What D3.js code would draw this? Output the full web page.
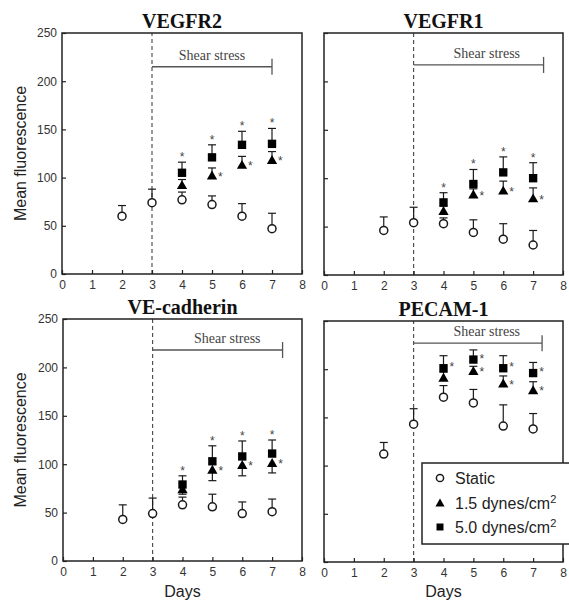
<!DOCTYPE html>
<html><head><meta charset="utf-8">
<script src="https://cdn.jsdelivr.net/npm/d3@7/dist/d3.min.js"></script>
<style>body{margin:0;background:#fff} svg{display:block}</style>
</head><body><svg id="c" width="569" height="603"></svg>
<script>
const panelTitles = ["VEGFR2", "VEGFR1", "VE-cadherin", "PECAM-1"];
const days = [2, 3, 4, 5, 6, 7];
const shearDays = [4, 5, 6, 7];
const xTicks = [0, 1, 2, 3, 4, 5, 6, 7, 8];
const yTicks = [0, 50, 100, 150, 200, 250];
const legendLabels = ["Static", "1.5 dynes/cm", "5.0 dynes/cm"];

// VEGFR2
const vegfr2Static = [60, 74, 77, 72, 60, 47];
const vegfr2StaticErr = [11, 14, 8, 9, 13, 16];
const vegfr2Low = [92, 102, 113, 118];
const vegfr2LowErr = [6, 8, 9, 9];
const vegfr2High = [105, 121, 134, 135];
const vegfr2HighErr = [11, 13, 14, 16];
const vegfr2LowSig = [0, 1, 1, 1];
const vegfr2HighSig = [1, 1, 1, 1];

// VEGFR1
const vegfr1Static = [46, 54, 53, 44, 37, 31];
const vegfr1StaticErr = [14, 16, 6, 13, 16, 15];
const vegfr1Low = [66, 83, 87, 79];
const vegfr1LowErr = [5, 6, 10, 11];
const vegfr1High = [75, 94, 106, 100];
const vegfr1HighErr = [10, 15, 16, 16];
const vegfr1LowSig = [0, 1, 1, 1];
const vegfr1HighSig = [1, 1, 1, 1];

// VE-cadherin
const vecadStatic = [43, 49, 58, 56, 49, 51];
const vecadStaticErr = [15, 16, 8, 13, 12, 13];
const vecadLow = [74, 94, 99, 101];
const vecadLowErr = [5, 11, 11, 10];
const vecadHigh = [79, 103, 108, 111];
const vecadHighErr = [9, 16, 16, 14];
const vecadLowSig = [0, 1, 1, 1];
const vecadHighSig = [1, 1, 1, 1];

// PECAM-1
const pecamStatic = [112, 143, 171, 165, 141, 138];
const pecamStaticErr = [12, 16, 12, 14, 22, 16];
const pecamLow = [191, 198, 185, 178];
const pecamLowErr = [6, 5, 8, 9];
const pecamHigh = [201, 210, 201, 196];
const pecamHighErr = [13, 10, 13, 11];
const pecamLowSig = [0, 1, 1, 1];
const pecamHighSig = [1, 1, 1, 1];

// shear stress annotation (data units)
const shearStart = 3;
const shearEnd = [7.0, 7.35, 7.35, 7.3];
const shearLevel = [215, 217, 218, 227];
const shearLabelDay = [5, 5.45, 5.5, 5.45];

const data = [
  {st: vegfr2Static, stE: vegfr2StaticErr, lo: vegfr2Low, loE: vegfr2LowErr, hi: vegfr2High, hiE: vegfr2HighErr, loS: vegfr2LowSig, hiS: vegfr2HighSig},
  {st: vegfr1Static, stE: vegfr1StaticErr, lo: vegfr1Low, loE: vegfr1LowErr, hi: vegfr1High, hiE: vegfr1HighErr, loS: vegfr1LowSig, hiS: vegfr1HighSig},
  {st: vecadStatic, stE: vecadStaticErr, lo: vecadLow, loE: vecadLowErr, hi: vecadHigh, hiE: vecadHighErr, loS: vecadLowSig, hiS: vecadHighSig},
  {st: pecamStatic, stE: pecamStaticErr, lo: pecamLow, loE: pecamLowErr, hi: pecamHigh, hiE: pecamHighErr, loS: pecamLowSig, hiS: pecamHighSig}
];

// layout (pixels)
const layouts = [
  {x0: 62, x1: 302, y0: 274, y1: 33, yLab: true, days: false, loDir: 1, hiSig: "top"},
  {x0: 324, x1: 563, y0: 275, y1: 33, yLab: false, days: false, loDir: 1, hiSig: "top"},
  {x0: 63, x1: 302, y0: 561, y1: 319, yLab: true, days: true, loDir: -1, hiSig: "top"},
  {x0: 324, x1: 563, y0: 562, y1: 321, yLab: false, days: true, loDir: 1, hiSig: "right"}
];

const svg = d3.select("#c");
const sans = "Liberation Sans, Arial, Helvetica, sans-serif";
const serif = "Liberation Serif, Times New Roman, Times, serif";
const ink = "#1a1a1a";

const triSym = d3.symbol().type(d3.symbolTriangle).size(46);
const sqSym = d3.symbol().type(d3.symbolSquare).size(70);

layouts.forEach((L, i) => {
  const D = data[i];
  const x = d3.scaleLinear().domain([0, 8]).range([L.x0, L.x1]);
  const y = d3.scaleLinear().domain([0, 250]).range([L.y0, L.y1]);
  const g = svg.append("g");

  // title
  g.append("text").attr("x", (L.x0 + L.x1) / 2).attr("y", L.y1 - 5)
    .attr("text-anchor", "middle").attr("font-family", serif).attr("font-weight", "bold")
    .attr("font-size", 20).attr("fill", "#111").text(panelTitles[i]);

  // dashed line at day 3
  g.append("line").attr("x1", x(shearStart)).attr("x2", x(shearStart))
    .attr("y1", y(0)).attr("y2", y(250)).attr("stroke", "#444")
    .attr("stroke-width", 1.1).attr("stroke-dasharray", "4,3");

  // shear stress bracket
  const sy = y(shearLevel[i]);
  g.append("line").attr("x1", x(shearStart)).attr("x2", x(shearEnd[i]))
    .attr("y1", sy).attr("y2", sy).attr("stroke", "#555").attr("stroke-width", 1.3);
  g.append("line").attr("x1", x(shearEnd[i])).attr("x2", x(shearEnd[i]))
    .attr("y1", sy - 8).attr("y2", sy + 8).attr("stroke", "#555").attr("stroke-width", 1.3);
  g.append("text").attr("x", x(shearLabelDay[i])).attr("y", sy - 7)
    .attr("text-anchor", "middle").attr("font-family", serif).attr("font-size", 14)
    .attr("fill", "#444").text("Shear stress");

  // error bars
  function errBars(xs, vals, errs, dir) {
    xs.forEach((d, k) => {
      const yv = y(vals[k]), ye = y(vals[k] + dir * errs[k]);
      g.append("line").attr("x1", x(d)).attr("x2", x(d)).attr("y1", yv).attr("y2", ye)
        .attr("stroke", ink).attr("stroke-width", 1.2);
      g.append("line").attr("x1", x(d) - 4).attr("x2", x(d) + 4).attr("y1", ye).attr("y2", ye)
        .attr("stroke", ink).attr("stroke-width", 1.2);
    });
  }
  errBars(days, D.st, D.stE, 1);
  errBars(shearDays, D.lo, D.loE, L.loDir);
  errBars(shearDays, D.hi, D.hiE, 1);

  // static circles
  days.forEach((d, k) => {
    g.append("circle").attr("cx", x(d)).attr("cy", y(D.st[k])).attr("r", 4)
      .attr("fill", "#fff").attr("stroke", ink).attr("stroke-width", 1.5);
  });
  // triangles
  shearDays.forEach((d, k) => {
    g.append("path").attr("d", triSym).attr("transform", `translate(${x(d)},${y(D.lo[k]) + 0.8})`)
      .attr("fill", "#000");
  });
  // squares
  shearDays.forEach((d, k) => {
    g.append("path").attr("d", sqSym).attr("transform", `translate(${x(d)},${y(D.hi[k])})`)
      .attr("fill", "#000");
  });

  // asterisks
  function star(px, py, anchor) {
    g.append("text").attr("x", px).attr("y", py).attr("text-anchor", anchor)
      .attr("font-family", sans).attr("font-size", 12).attr("fill", "#444").text("*");
  }
  shearDays.forEach((d, k) => {
    if (D.loS[k]) star(x(d) + 6, y(D.lo[k]) + 5, "start");
    if (D.hiS[k]) {
      if (L.hiSig === "top") star(x(d), y(D.hi[k] + D.hiE[k]) - 1, "middle");
      else star(x(d) + 6, y(D.hi[k]) + 3, "start");
    }
  });

  // frame
  g.append("rect").attr("x", L.x0).attr("y", L.y1).attr("width", L.x1 - L.x0)
    .attr("height", L.y0 - L.y1).attr("fill", "none").attr("stroke", "#222").attr("stroke-width", 1.5);

  // axes
  const xa = g.append("g").attr("transform", `translate(0,${L.y0})`)
    .call(d3.axisBottom(x).tickValues(xTicks).tickSizeInner(-4).tickSizeOuter(0).tickPadding(6).tickFormat(d3.format("d")));
  const ya = g.append("g").attr("transform", `translate(${L.x0},0)`)
    .call(d3.axisLeft(y).tickValues(yTicks).tickSizeInner(-4).tickSizeOuter(0).tickPadding(5)
      .tickFormat(L.yLab ? d3.format("d") : () => ""));
  [xa, ya].forEach(a => {
    a.select(".domain").remove();
    a.selectAll("line").attr("stroke", "#222").attr("stroke-width", 1.2);
    a.selectAll("text").attr("font-family", sans).attr("font-size", 12).attr("fill", "#333");
  });

  // y label
  if (L.yLab) {
    g.append("text").attr("transform", `translate(26,${(L.y0 + L.y1) / 2}) rotate(-90)`)
      .attr("text-anchor", "middle").attr("font-family", sans).attr("font-size", 16)
      .attr("fill", "#222").text("Mean fluorescence");
  }
  if (L.days) {
    g.append("text").attr("x", (L.x0 + L.x1) / 2).attr("y", 597).attr("text-anchor", "middle")
      .attr("font-family", sans).attr("font-size", 16).attr("fill", "#222").text("Days");
  }
});

// legend
const lg = svg.append("g");
lg.append("rect").attr("x", 422).attr("y", 463).attr("width", 160).attr("height", 81)
  .attr("fill", "#fff").attr("stroke", "#222").attr("stroke-width", 1.5);
const legY = [478, 503, 527];
lg.append("circle").attr("cx", 440).attr("cy", legY[0]).attr("r", 3.6)
  .attr("fill", "#fff").attr("stroke", ink).attr("stroke-width", 1.5);
lg.append("path").attr("d", d3.symbol().type(d3.symbolTriangle).size(36))
  .attr("transform", `translate(440,${legY[1] + 0.8})`).attr("fill", "#000");
lg.append("path").attr("d", d3.symbol().type(d3.symbolSquare).size(49))
  .attr("transform", `translate(440,${legY[2]})`).attr("fill", "#000");
legendLabels.forEach((t, k) => {
  const tx = lg.append("text").attr("x", 455).attr("y", legY[k] + 5.5)
    .attr("font-family", sans).attr("font-size", 16).attr("fill", "#222").text(t);
  if (k > 0) tx.append("tspan").attr("dy", -6).attr("font-size", 11).text("2");
});
</script></body></html>
